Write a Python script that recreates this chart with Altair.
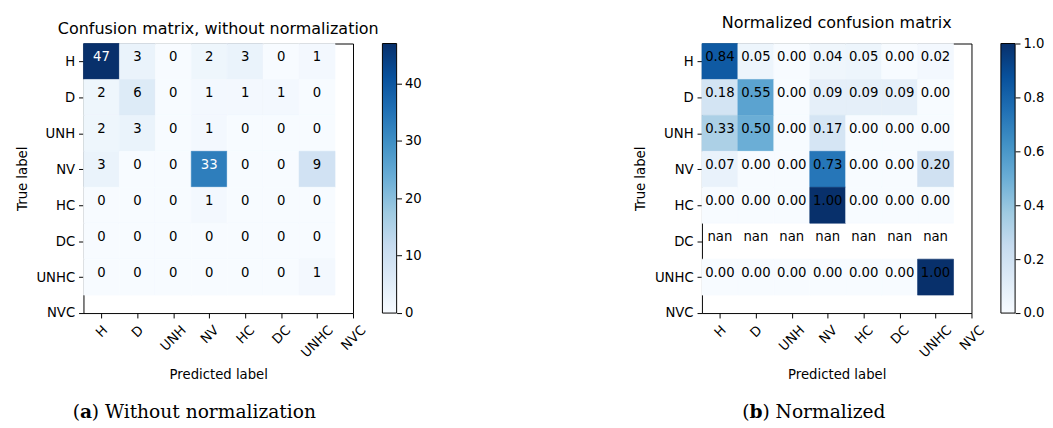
import json
import altair as alt
import pandas as pd

# ---------------- data ----------------
classes = ["H", "D", "UNH", "NV", "HC", "DC", "UNHC", "NVC"]

counts = [
    [47, 3, 0, 2, 3, 0, 1],
    [2, 6, 0, 1, 1, 1, 0],
    [2, 3, 0, 1, 0, 0, 0],
    [3, 0, 0, 33, 0, 0, 9],
    [0, 0, 0, 1, 0, 0, 0],
    [0, 0, 0, 0, 0, 0, 0],
    [0, 0, 0, 0, 0, 0, 1],
]

normalized = [
    [0.84, 0.05, 0.00, 0.04, 0.05, 0.00, 0.02],
    [0.18, 0.55, 0.00, 0.09, 0.09, 0.09, 0.00],
    [0.33, 0.50, 0.00, 0.17, 0.00, 0.00, 0.00],
    [0.07, 0.00, 0.00, 0.73, 0.00, 0.00, 0.20],
    [0.00, 0.00, 0.00, 1.00, 0.00, 0.00, 0.00],
    [None, None, None, None, None, None, None],
    [0.00, 0.00, 0.00, 0.00, 0.00, 0.00, 1.00],
]

count_ticks = [0, 10, 20, 30, 40]
norm_ticks = [0.0, 0.2, 0.4, 0.6, 0.8, 1.0]

titles = ["Confusion matrix, without normalization", "Normalized confusion matrix"]
caption_letters = ["a", "b"]
caption_texts = ["Without normalization", "Normalized"]

# matplotlib "Blues" colormap anchor colours
blues = ["#f7fbff", "#deebf7", "#c6dbef", "#9ecae1", "#6baed6",
         "#4292c6", "#2171b5", "#08519c", "#08306b"]

# ---------------- style / layout ----------------
FONT = "DejaVu Sans"
SERIF = "DejaVu Serif"
SIZE = 275
CB_X0, CB_X1 = 305, 319.5
FS = 13.5
names_js = json.dumps(classes)
n = len(classes)


def long_table(mat):
    rows = []
    for i, r in enumerate(mat):
        for j, v in enumerate(r):
            rows.append({"row": i, "col": j, "v": v})
    return pd.DataFrame(rows)


def panel(mat, fmt, ticks, tick_fmt, title, letter, caption, cap_x, letter_w):
    df = long_table(mat)
    vals = [v for r in mat for v in r if v is not None]
    vmin, vmax = min(vals), max(vals)
    has_nan = any(v is None for r in mat for v in r)
    test = "false" if has_nan else f"datum.v > {vmax / 2}"
    cscale = alt.Scale(domain=[vmin + (vmax - vmin) * k / 8 for k in range(9)],
                       range=blues, interpolate="rgb")

    xaxis = alt.Axis(
        values=list(range(n)),
        labelExpr=f"{names_js}[datum.value]",
        labelAngle=315, labelAlign="right", labelBaseline="top",
        labelPadding=5,
        labelOffset={"expr": f"(length({names_js}[datum.value]) * 9.6 - 13.5) * 0.354"},
        labelFlush=False, labelOverlap=False, titlePadding=8,
    )
    yaxis = alt.Axis(
        values=list(range(n)),
        labelExpr=f"{names_js}[datum.value]",
        labelPadding=4, labelFlush=False, labelOverlap=False, titlePadding=7,
    )
    xs = alt.Scale(domain=[-0.5, n - 1], nice=False, zero=False)
    ys = alt.Scale(domain=[-0.5, n - 1], nice=False, zero=False, reverse=True)

    base = alt.Chart(df)
    rects = base.transform_filter("isValid(datum.v)").transform_calculate(
        x0="datum.col - 0.5", x1="datum.col + 0.5",
        y0="datum.row - 0.5", y1="datum.row + 0.5",
    ).mark_rect(strokeWidth=0.6).encode(
        x=alt.X("x0:Q", scale=xs, axis=xaxis, title="Predicted label"),
        x2="x1:Q",
        y=alt.Y("y0:Q", scale=ys, axis=yaxis, title="True label"),
        y2="y1:Q",
        color=alt.Color("v:Q", scale=cscale, legend=None),
        stroke=alt.Stroke("v:Q", scale=cscale, legend=None),
    )
    texts = base.transform_calculate(
        lab=f"isValid(datum.v) ? format(datum.v, '{fmt}') : 'nan'"
    ).mark_text(font=FONT, fontSize=FS, align="center", baseline="alphabetic").encode(
        x=alt.X("col:Q", scale=xs, axis=xaxis, title="Predicted label"),
        y=alt.Y("row:Q", scale=ys, axis=None),
        text="lab:N",
        color=alt.condition(test, alt.value("white"), alt.value("black")),
    )

    # colour bar (matplotlib-style, with its own value axis)
    cb_df = pd.DataFrame({"lo": [vmin], "hi": [vmax]})
    grad = {"gradient": "linear", "x1": 0, "y1": 1, "x2": 0, "y2": 0,
            "stops": [{"offset": k / 8, "color": c} for k, c in enumerate(blues)]}
    cbar = alt.Chart(cb_df).mark_rect(fill=grad, stroke="black", strokeWidth=1).encode(
        x=alt.value(CB_X0), x2=alt.value(CB_X1),
        y=alt.Y("lo:Q", scale=alt.Scale(domain=[vmin, vmax], nice=False, zero=False),
                axis=alt.Axis(orient="right", offset=CB_X1 - SIZE, values=ticks,
                              format=tick_fmt, title=None, labelPadding=3,
                              labelFlush=False, labelOverlap=False)),
        y2="hi:Q",
    )

    cap_df = pd.DataFrame({"letter": [letter], "caption": [caption]})
    cap = alt.Chart(cap_df)
    c1 = cap.mark_text(font=SERIF, fontSize=19, align="left", baseline="alphabetic",
                       color="black", text="(").encode(
        x=alt.value(cap_x), y=alt.value(382))
    c2 = cap.mark_text(font=SERIF, fontSize=19, fontWeight="bold", align="left",
                       baseline="alphabetic", color="black").encode(
        x=alt.value(cap_x + 7.4), y=alt.value(382), text="letter:N")
    c3 = cap.transform_calculate(t="') ' + datum.caption").mark_text(
        font=SERIF, fontSize=19, align="left", baseline="alphabetic", color="black").encode(
        x=alt.value(cap_x + 7.4 + letter_w), y=alt.value(382), text="t:N")

    return alt.layer(rects, texts, cbar, c1, c2, c3).resolve_scale(
        y="independent"
    ).properties(width=SIZE, height=SIZE, title=title)


p1 = panel(counts, "d", count_ticks, "d", titles[0], caption_letters[0],
           caption_texts[0], -11, 12.0)
p2 = panel(normalized, ".2f", norm_ticks, ".1f", titles[1], caption_letters[1],
           caption_texts[1], 41, 13.3)

chart = alt.hconcat(p1, p2, spacing=356, bounds="flush").resolve_scale(
    x="independent", y="independent", color="independent", stroke="independent"
).properties(
    padding={"left": 6, "top": 2, "right": 0, "bottom": 0}
).configure_view(
    stroke="black", strokeWidth=1
).configure_axis(
    domain=False, grid=False, tickColor="black", tickSize=5, tickWidth=1,
    labelFont=FONT, labelFontSize=FS, labelColor="black",
    titleFont=FONT, titleFontSize=FS, titleFontWeight="normal", titleColor="black",
).configure_title(
    font=FONT, fontSize=16.3, fontWeight="normal", color="black",
    anchor="middle", offset=6,
)

chart.save("out.html", embed_options={"renderer": "svg", "actions": False})
